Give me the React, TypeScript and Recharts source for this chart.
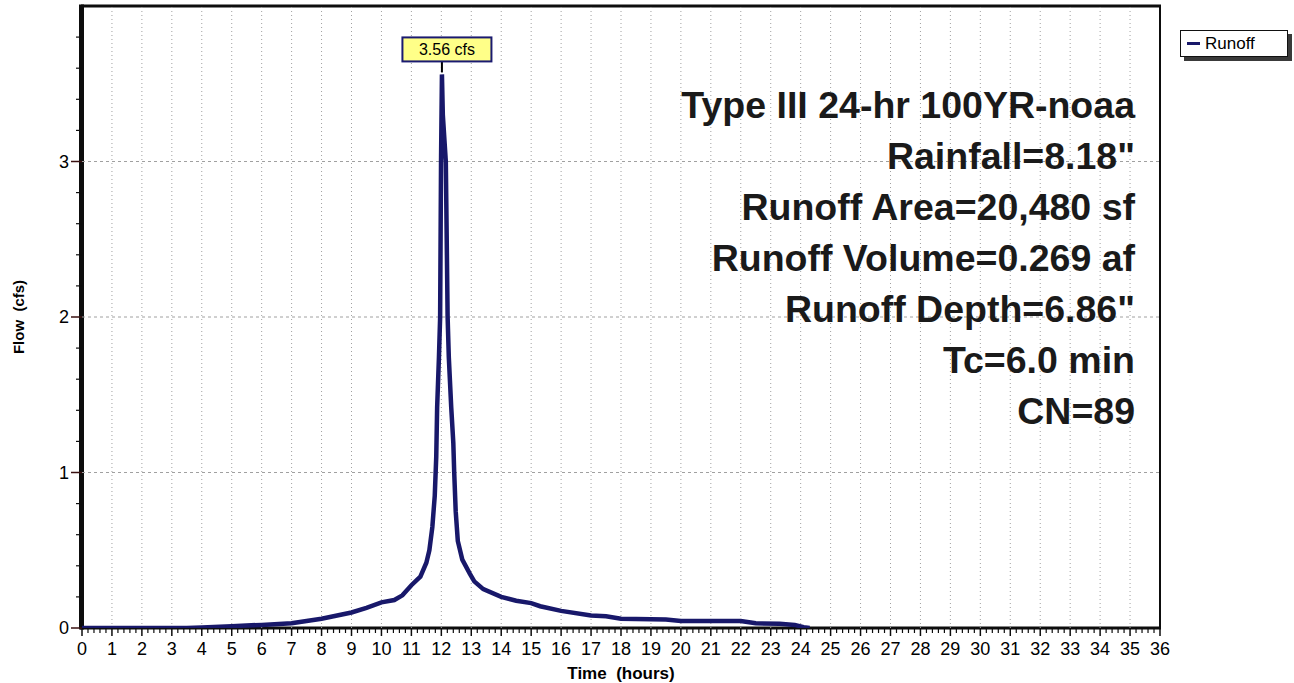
import React from "react";
import { LineChart, Line, XAxis, YAxis, ReferenceLine, ReferenceDot, ReferenceArea } from "recharts";

const times = [0, 3.5, 4, 5, 6, 7, 8, 9, 9.5, 10, 10.43, 10.7, 11.0, 11.3, 11.5, 11.6, 11.7, 11.78, 11.83, 11.86, 11.92, 11.96, 11.99, 12.02, 12.05, 12.15, 12.21, 12.25, 12.33, 12.4, 12.43, 12.48, 12.55, 12.7, 12.95, 13.1, 13.4, 14, 14.5, 15, 15.3, 16, 17, 17.5, 18, 19.5, 20, 22, 22.5, 23.3, 23.8, 24.1, 24.3];
const flows = [0, 0, 0.004, 0.012, 0.02, 0.03, 0.06, 0.1, 0.13, 0.165, 0.18, 0.21, 0.275, 0.33, 0.42, 0.5, 0.65, 0.85, 1.1, 1.42, 1.74, 2.0, 3.0, 3.56, 3.3, 3.0, 2.0, 1.74, 1.42, 1.19, 1.0, 0.75, 0.56, 0.44, 0.35, 0.3, 0.25, 0.2, 0.175, 0.16, 0.14, 0.11, 0.08, 0.075, 0.06, 0.055, 0.045, 0.045, 0.03, 0.028, 0.02, 0.005, 0];

const peakTime = 12.02;
const peakFlow = 3.56;
const peakLabel = "3.56 cfs";

const xMajorTicks = Array.from({ length: 37 }, (_, i) => i);
const xAllTicks = Array.from({ length: 181 }, (_, i) => i / 5);
const yMajorLabels = [0, 1, 2, 3];
const yAllTicks = Array.from({ length: 20 }, (_, i) => i / 5);
const gridY = [1, 2, 3];

const annotations = [
  "Type III 24-hr 100YR-noaa",
  'Rainfall=8.18"',
  "Runoff Area=20,480 sf",
  "Runoff Volume=0.269 af",
  'Runoff Depth=6.86"',
  "Tc=6.0 min",
  "CN=89",
];

const seriesName = "Runoff";
const data = times.map((t, i) => ({ t, q: flows[i] }));

const FONT = '"Liberation Sans", Arial, sans-serif';
const LINE = "#18186a";
const INK = "#0d0d0d";

const isMajor = (v: number) => Math.abs(v - Math.round(v)) < 1e-6;

const XTick = (props: any) => {
  const { x, y, payload } = props;
  const v = payload.value;
  const major = isMajor(v);
  return (
    <g>
      <line x1={x} x2={x} y1={y} y2={y + (major ? 8 : 5)} stroke={INK} strokeWidth={major ? 1.5 : 1.2} />
      {major && (
        <text x={x} y={y + 27} textAnchor="middle" fontFamily={FONT} fontSize={18} fill="#000">
          {Math.round(v)}
        </text>
      )}
    </g>
  );
};

const YTick = (props: any) => {
  const { x, y, payload } = props;
  const v = payload.value;
  const major = isMajor(v);
  const labeled = major && yMajorLabels.includes(Math.round(v));
  return (
    <g>
      <line x1={x - (major ? 11 : 6)} x2={x} y1={y} y2={y} stroke={major ? "#3a1010" : INK} strokeWidth={major ? 1.5 : 1.2} />
      {labeled && (
        <text x={x - 13} y={y + 6} textAnchor="end" fontFamily={FONT} fontSize={18} fill="#000">
          {Math.round(v)}
        </text>
      )}
    </g>
  );
};

const PeakShape = (props: any) => {
  const { cx, cy } = props;
  const w = 89;
  const h = 24;
  const bx = cx + 5 - w / 2;
  const by = cy - 37;
  return (
    <g>
      <line x1={cx} x2={cx} y1={by + h} y2={cy - 2} stroke="#000" strokeWidth={2} />
      <rect x={bx} y={by} width={w} height={h} fill="#ffff88" stroke="#1a1a70" strokeWidth={2} />
      <text x={bx + w / 2} y={by + 18} textAnchor="middle" fontFamily={FONT} fontSize={16} fill="#000">
        {peakLabel}
      </text>
    </g>
  );
};

const Annotations = (props: any) => {
  const { viewBox } = props;
  const right = viewBox.x + viewBox.width - 25;
  return (
    <g>
      {annotations.map((s, i) => (
        <text
          key={i}
          x={right}
          y={118 + i * 51}
          textAnchor="end"
          fontFamily={FONT}
          fontWeight="bold"
          fontSize={37.5}
          fill="#1a1a1a"
        >
          {s}
        </text>
      ))}
    </g>
  );
};

const FrameShape = (props: any) => {
  const { x, y, width, height } = props;
  return (
    <g>
      <line x1={x - 1} x2={x + width + 1} y1={y} y2={y} stroke={INK} strokeWidth={3} />
      <line x1={x + width} x2={x + width} y1={y} y2={y + height} stroke={INK} strokeWidth={2} />
      <line x1={x - 2} x2={x + width + 1} y1={y + height} y2={y + height} stroke={INK} strokeWidth={3} />
      <line x1={x - 0.5} x2={x - 0.5} y1={y - 1.5} y2={y + height + 1.5} stroke={INK} strokeWidth={5} />
    </g>
  );
};

export default function App() {
  return (
    <div style={{ position: "relative", width: 1294, height: 683, background: "#fff" }}>
      <style>{"body{margin:0;}"}</style>
      <LineChart width={1294} height={683} data={data} margin={{ top: 6, right: 134, bottom: 0, left: 0 }}>
        <XAxis
          dataKey="t"
          type="number"
          domain={[0, 36]}
          ticks={xAllTicks}
          interval={0}
          tick={<XTick />}
          tickLine={false}
          tickSize={0}
          tickMargin={0}
          height={55}
          axisLine={false}
          allowDataOverflow
          label={{
            content: (p: any) => {
              const vb = p.viewBox;
              return (
                <text x={vb.x + vb.width / 2} y={vb.y + 51} textAnchor="middle" fontFamily={FONT} fontWeight="bold" fontSize={17} fill="#000" style={{ whiteSpace: "pre" }}>
                  {"Time  (hours)"}
                </text>
              );
            },
          }}
        />
        <YAxis
          type="number"
          domain={[0, 4]}
          ticks={yAllTicks}
          interval={0}
          tick={<YTick />}
          tickLine={false}
          tickSize={0}
          tickMargin={0}
          width={82}
          axisLine={false}
          allowDataOverflow
          label={{
            content: (p: any) => {
              const vb = p.viewBox;
              const cx = vb.x + 18;
              const cy = vb.y + vb.height / 2;
              return (
                <text x={cx} y={cy} transform={`rotate(-90 ${cx} ${cy})`} textAnchor="middle" dominantBaseline="central" fontFamily={FONT} fontWeight="bold" fontSize={15} fill="#000" style={{ whiteSpace: "pre" }}>
                  {"Flow  (cfs)"}
                </text>
              );
            },
          }}
        />
        {xMajorTicks.filter((v) => v > 0 && v < 36).map((v) => (
          <ReferenceLine key={"gx" + v} x={v} stroke="#a0a0a0" strokeWidth={1} strokeDasharray="1 3" />
        ))}
        {gridY.map((v) => (
          <ReferenceLine key={"gy" + v} y={v} stroke="#a0a0a0" strokeWidth={1} strokeDasharray="3 3" />
        ))}
        <ReferenceLine y={4} stroke="none" ifOverflow="visible" label={<Annotations />} />
        <Line
          type="linear"
          dataKey="q"
          name={seriesName}
          stroke={LINE}
          strokeWidth={4.5}
          dot={false}
          activeDot={false}
          isAnimationActive={false}
        />
        <ReferenceArea x1={0} x2={36} y1={0} y2={4} ifOverflow="visible" shape={<FrameShape />} />
        <ReferenceDot x={peakTime} y={peakFlow} r={0} ifOverflow="visible" shape={<PeakShape />} />
      </LineChart>
      <div
        style={{
          position: "absolute",
          left: 1180,
          top: 30,
          width: 106,
          height: 25,
          border: "1.5px solid #111",
          background: "#fff",
          boxShadow: "4px 4px 0 #3a3a3a",
          display: "flex",
          alignItems: "center",
          fontFamily: FONT,
          fontSize: 17,
          color: "#000",
        }}
      >
        <span style={{ display: "inline-block", width: 13, height: 3, background: LINE, marginLeft: 6, marginRight: 5 }} />
        <span>{seriesName}</span>
      </div>
    </div>
  );
}
